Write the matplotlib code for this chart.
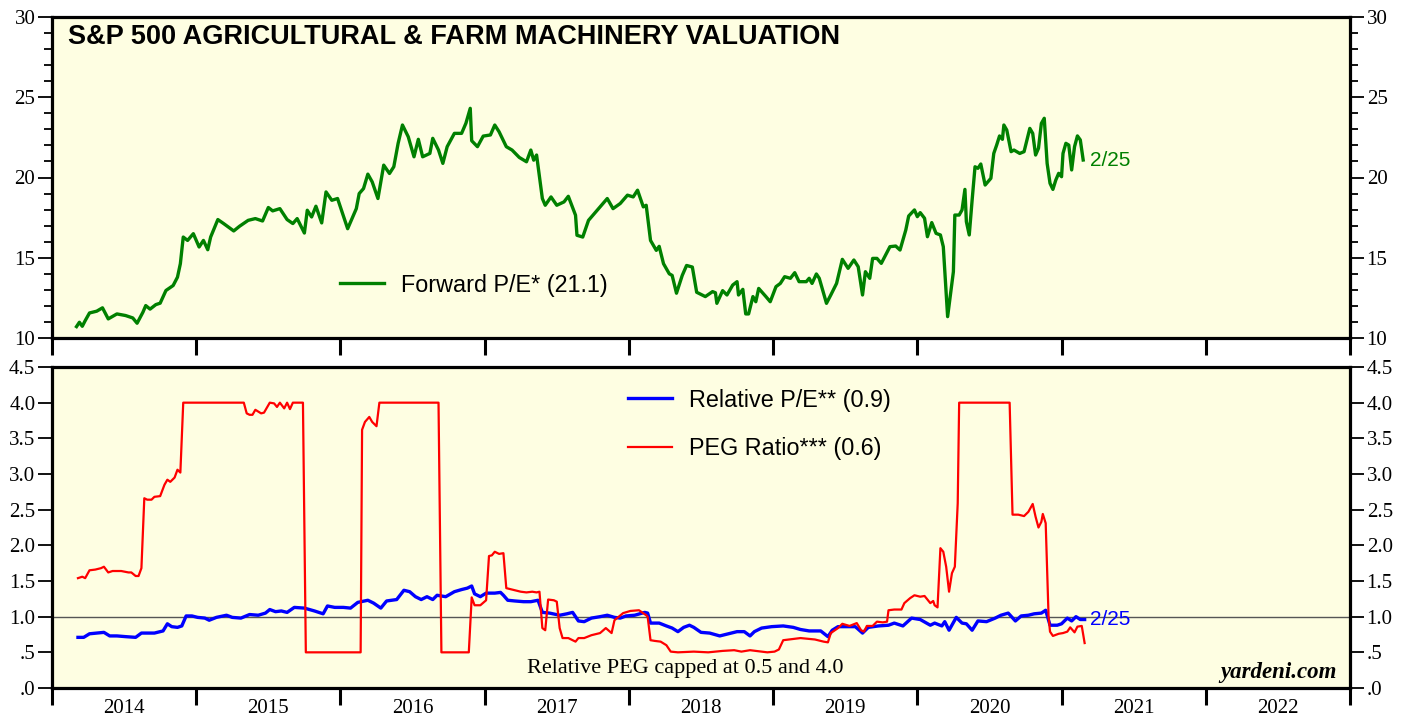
import numpy as np
import matplotlib
matplotlib.use('Agg')
import matplotlib.pyplot as plt
from matplotlib.ticker import FixedLocator, FuncFormatter, NullFormatter

# Forward P/E (decimal years, value)
pe_years = [2014.17, 2014.19, 2014.21, 2014.23, 2014.26, 2014.31, 2014.35, 2014.39, 2014.45, 2014.51,
            2014.56, 2014.59, 2014.63, 2014.65, 2014.68, 2014.72, 2014.75, 2014.79, 2014.84, 2014.87,
            2014.89, 2014.91, 2014.94, 2014.98, 2015.02, 2015.05, 2015.08, 2015.10, 2015.15, 2015.19,
            2015.26, 2015.30, 2015.36, 2015.41, 2015.46, 2015.50, 2015.53, 2015.58, 2015.63, 2015.67,
            2015.70, 2015.75, 2015.77, 2015.80, 2015.83, 2015.87, 2015.90, 2015.94, 2015.98, 2016.05,
            2016.11, 2016.13, 2016.16, 2016.19, 2016.22, 2016.26, 2016.30, 2016.34, 2016.37, 2016.40,
            2016.43, 2016.47, 2016.51, 2016.54, 2016.57, 2016.62, 2016.64, 2016.68, 2016.71, 2016.74,
            2016.79, 2016.84, 2016.87, 2016.90, 2016.91, 2016.95, 2016.99, 2017.04, 2017.07, 2017.10,
            2017.15, 2017.19, 2017.24, 2017.29, 2017.32, 2017.34, 2017.36, 2017.40, 2017.42, 2017.46,
            2017.50, 2017.55, 2017.58, 2017.63, 2017.64, 2017.68, 2017.72, 2017.77, 2017.85, 2017.89,
            2017.94, 2017.99, 2018.03, 2018.06, 2018.10, 2018.12, 2018.15, 2018.19, 2018.21, 2018.24,
            2018.28, 2018.30, 2018.33, 2018.37, 2018.40, 2018.44, 2018.47, 2018.53, 2018.58, 2018.60,
            2018.61, 2018.65, 2018.68, 2018.72, 2018.75, 2018.76, 2018.79, 2018.81, 2018.83, 2018.86,
            2018.88, 2018.90, 2018.95, 2018.98, 2019.02, 2019.05, 2019.08, 2019.12, 2019.15, 2019.18,
            2019.23, 2019.25, 2019.27, 2019.30, 2019.32, 2019.37, 2019.40, 2019.44, 2019.48, 2019.52,
            2019.56, 2019.59, 2019.62, 2019.64, 2019.67, 2019.69, 2019.72, 2019.75, 2019.81, 2019.85,
            2019.88, 2019.92, 2019.94, 2019.98, 2020.00, 2020.02, 2020.05, 2020.07, 2020.10, 2020.13,
            2020.16, 2020.18, 2020.21, 2020.25, 2020.26, 2020.29, 2020.31, 2020.33, 2020.34, 2020.36,
            2020.38, 2020.40, 2020.42, 2020.44, 2020.47, 2020.51, 2020.53, 2020.55, 2020.57, 2020.59,
            2020.60, 2020.62, 2020.65, 2020.67, 2020.71, 2020.74, 2020.76, 2020.78, 2020.80, 2020.82,
            2020.84, 2020.86, 2020.88, 2020.90, 2020.92, 2020.94, 2020.96, 2020.98, 2021.00, 2021.01,
            2021.03, 2021.05, 2021.07, 2021.09, 2021.11, 2021.13, 2021.15]
pe_values = [10.71, 10.98, 10.73, 11.08, 11.56, 11.67, 11.88, 11.19, 11.50, 11.40,
             11.25, 10.92, 11.60, 12.02, 11.80, 12.08, 12.17, 12.96, 13.27, 13.79,
             14.63, 16.29, 16.08, 16.50, 15.67, 16.08, 15.50, 16.29, 17.38, 17.13,
             16.67, 16.96, 17.33, 17.44, 17.29, 18.13, 17.92, 18.06, 17.38, 17.13,
             17.44, 16.54, 17.96, 17.54, 18.21, 17.17, 19.10, 18.58, 18.69, 16.81,
             18.06, 19.00, 19.31, 20.21, 19.73, 18.69, 20.77, 20.25, 20.67, 22.13,
             23.27, 22.54, 21.29, 22.38, 21.29, 21.50, 22.44, 21.71, 20.88, 21.92,
             22.75, 22.75, 23.38, 24.31, 22.29, 21.92, 22.58, 22.65, 23.27, 22.85,
             21.92, 21.71, 21.25, 20.98, 21.71, 21.08, 21.40, 18.69, 18.27, 18.79,
             18.27, 18.48, 18.83, 17.65, 16.40, 16.29, 17.33, 17.85, 18.69, 18.06,
             18.38, 18.90, 18.79, 19.21, 18.17, 18.27, 16.08, 15.46, 15.71, 14.63,
             14.00, 13.90, 12.79, 13.90, 14.52, 14.42, 12.85, 12.58, 12.89, 12.82,
             12.16, 12.95, 12.68, 13.30, 13.51, 12.68, 13.03, 11.50, 11.50, 12.58,
             12.26, 13.09, 12.58, 12.26, 13.20, 13.40, 13.82, 13.72, 14.07, 13.51,
             13.51, 13.72, 13.40, 13.99, 13.72, 12.16, 12.68, 13.40, 14.90, 14.34,
             14.86, 14.44, 12.68, 14.13, 13.72, 14.96, 14.96, 14.65, 15.69, 15.73,
             15.48, 16.73, 17.60, 17.98, 17.56, 17.81, 17.46, 16.31, 17.19, 16.52,
             16.42, 15.69, 11.33, 14.13, 17.66, 17.66, 17.98, 19.26, 17.25, 16.42,
             18.60, 20.67, 20.57, 20.84, 19.53, 19.95, 21.50, 22.02, 22.59, 22.38,
             23.27, 22.96, 21.61, 21.71, 21.50, 21.61, 22.34, 23.06, 22.75, 21.40,
             21.82, 23.37, 23.69, 20.88, 19.64, 19.26, 19.84, 20.26, 20.05, 21.50,
             22.13, 22.02, 20.47, 21.92, 22.59, 22.34, 21.09]

# Relative P/E
rel_years = [2014.18, 2014.22, 2014.26, 2014.36, 2014.40, 2014.45, 2014.51, 2014.58, 2014.62, 2014.66,
             2014.71, 2014.77, 2014.80, 2014.83, 2014.87, 2014.90, 2014.93, 2014.97, 2015.01, 2015.06,
             2015.09, 2015.14, 2015.21, 2015.25, 2015.31, 2015.37, 2015.43, 2015.48, 2015.51, 2015.55,
             2015.59, 2015.63, 2015.68, 2015.75, 2015.82, 2015.88, 2015.91, 2015.96, 2016.02, 2016.07,
             2016.12, 2016.19, 2016.23, 2016.28, 2016.32, 2016.39, 2016.44, 2016.48, 2016.52, 2016.56,
             2016.60, 2016.64, 2016.67, 2016.73, 2016.79, 2016.84, 2016.88, 2016.91, 2016.93, 2016.97,
             2017.01, 2017.07, 2017.11, 2017.13, 2017.16, 2017.21, 2017.27, 2017.32, 2017.37, 2017.40,
             2017.45, 2017.52, 2017.57, 2017.61, 2017.65, 2017.69, 2017.74, 2017.80, 2017.85, 2017.90,
             2017.94, 2017.98, 2018.04, 2018.11, 2018.13, 2018.15, 2018.21, 2018.26, 2018.30, 2018.34,
             2018.38, 2018.42, 2018.45, 2018.50, 2018.56, 2018.63, 2018.69, 2018.75, 2018.80, 2018.84,
             2018.87, 2018.92, 2018.99, 2019.07, 2019.14, 2019.19, 2019.25, 2019.33, 2019.38, 2019.41,
             2019.45, 2019.51, 2019.57, 2019.62, 2019.66, 2019.73, 2019.80, 2019.84, 2019.90, 2019.96,
             2020.02, 2020.09, 2020.12, 2020.17, 2020.19, 2020.22, 2020.27, 2020.31, 2020.34, 2020.38,
             2020.42, 2020.48, 2020.54, 2020.58, 2020.63, 2020.68, 2020.72, 2020.77, 2020.81, 2020.86,
             2020.89, 2020.92, 2020.97, 2021.00, 2021.04, 2021.07, 2021.10, 2021.13, 2021.16]
rel_values = [0.71, 0.71, 0.76, 0.78, 0.73, 0.73, 0.72, 0.71, 0.77, 0.77,
              0.77, 0.80, 0.90, 0.86, 0.85, 0.87, 1.01, 1.01, 0.99, 0.98,
              0.95, 0.99, 1.02, 0.99, 0.98, 1.03, 1.02, 1.05, 1.10, 1.07,
              1.08, 1.06, 1.13, 1.12, 1.08, 1.04, 1.15, 1.13, 1.13, 1.12,
              1.20, 1.23, 1.19, 1.12, 1.22, 1.24, 1.37, 1.35, 1.28, 1.24,
              1.28, 1.24, 1.30, 1.28, 1.35, 1.38, 1.40, 1.43, 1.32, 1.28,
              1.33, 1.33, 1.34, 1.30, 1.23, 1.22, 1.21, 1.21, 1.23, 1.06,
              1.05, 1.02, 1.04, 1.06, 0.94, 0.93, 0.98, 1.00, 1.02, 0.99,
              0.98, 1.01, 1.02, 1.06, 1.05, 0.91, 0.91, 0.87, 0.84, 0.79,
              0.85, 0.88, 0.85, 0.78, 0.77, 0.73, 0.76, 0.79, 0.79, 0.73,
              0.79, 0.84, 0.86, 0.87, 0.85, 0.82, 0.80, 0.80, 0.72, 0.81,
              0.86, 0.86, 0.86, 0.77, 0.85, 0.87, 0.88, 0.91, 0.87, 0.98,
              0.96, 0.88, 0.91, 0.87, 0.93, 0.81, 0.99, 0.91, 0.90, 0.81,
              0.94, 0.93, 0.98, 1.02, 1.05, 0.94, 1.01, 1.02, 1.04, 1.05,
              1.09, 0.88, 0.88, 0.90, 0.98, 0.94, 1.00, 0.96, 0.96]

# PEG ratio (capped at 0.5 and 4.0)
peg_years = [2014.18, 2014.21, 2014.23, 2014.26, 2014.30, 2014.34, 2014.36, 2014.39, 2014.42, 2014.48,
             2014.53, 2014.55, 2014.58, 2014.60, 2014.62, 2014.64, 2014.66, 2014.69, 2014.71, 2014.75,
             2014.78, 2014.80, 2014.82, 2014.85, 2014.87, 2014.89, 2014.91, 2015.33, 2015.35, 2015.37,
             2015.39, 2015.41, 2015.45, 2015.47, 2015.51, 2015.54, 2015.56, 2015.58, 2015.61, 2015.63,
             2015.65, 2015.67, 2015.74, 2015.76, 2016.14, 2016.15, 2016.17, 2016.20, 2016.22, 2016.25,
             2016.27, 2016.68, 2016.70, 2016.89, 2016.91, 2016.93, 2016.97, 2017.01, 2017.03, 2017.05,
             2017.07, 2017.10, 2017.13, 2017.15, 2017.21, 2017.25, 2017.29, 2017.33, 2017.36, 2017.38,
             2017.40, 2017.42, 2017.44, 2017.48, 2017.50, 2017.52, 2017.54, 2017.58, 2017.63, 2017.65,
             2017.69, 2017.74, 2017.80, 2017.84, 2017.88, 2017.90, 2017.96, 2018.01, 2018.07, 2018.12,
             2018.13, 2018.15, 2018.18, 2018.22, 2018.26, 2018.29, 2018.34, 2018.45, 2018.55, 2018.65,
             2018.73, 2018.78, 2018.84, 2018.96, 2019.01, 2019.04, 2019.07, 2019.11, 2019.19, 2019.29,
             2019.35, 2019.38, 2019.40, 2019.45, 2019.48, 2019.53, 2019.58, 2019.61, 2019.63, 2019.65,
             2019.69, 2019.72, 2019.76, 2019.79, 2019.80, 2019.84, 2019.89, 2019.91, 2019.95, 2019.98,
             2020.02, 2020.05, 2020.07, 2020.09, 2020.11, 2020.12, 2020.14, 2020.16, 2020.18, 2020.20,
             2020.22, 2020.24, 2020.26, 2020.28, 2020.29, 2020.64, 2020.66, 2020.70, 2020.74, 2020.77,
             2020.80, 2020.82, 2020.84, 2020.86, 2020.87, 2020.89, 2020.91, 2020.92, 2020.94, 2020.98,
             2021.01, 2021.04, 2021.06, 2021.09, 2021.11, 2021.14, 2021.16]
peg_values = [1.54, 1.56, 1.54, 1.65, 1.66, 1.68, 1.70, 1.62, 1.64, 1.64,
              1.62, 1.62, 1.57, 1.57, 1.68, 2.66, 2.64, 2.64, 2.68, 2.69,
              2.85, 2.92, 2.89, 2.95, 3.06, 3.02, 4.00, 4.00, 3.85, 3.83,
              3.83, 3.90, 3.85, 3.86, 4.00, 3.99, 3.94, 4.00, 3.92, 4.00,
              3.91, 4.00, 4.00, 0.50, 0.50, 3.62, 3.73, 3.80, 3.73, 3.67,
              4.00, 4.00, 0.50, 0.50, 1.27, 1.16, 1.16, 1.23, 1.85, 1.86,
              1.91, 1.88, 1.89, 1.40, 1.37, 1.35, 1.34, 1.35, 1.34, 1.35,
              0.84, 0.81, 1.24, 1.23, 1.21, 0.84, 0.70, 0.70, 0.65, 0.70,
              0.70, 0.74, 0.77, 0.84, 0.77, 0.95, 1.05, 1.08, 1.09, 1.02,
              1.00, 0.67, 0.66, 0.65, 0.60, 0.51, 0.50, 0.51, 0.50, 0.52,
              0.53, 0.51, 0.53, 0.50, 0.51, 0.54, 0.67, 0.68, 0.70, 0.68,
              0.65, 0.64, 0.77, 0.84, 0.90, 0.87, 0.91, 0.81, 0.79, 0.87,
              0.87, 0.93, 0.92, 0.93, 1.09, 1.10, 1.10, 1.19, 1.26, 1.30,
              1.28, 1.29, 1.24, 1.19, 1.22, 1.16, 1.13, 1.96, 1.91, 1.70,
              1.35, 1.61, 1.70, 2.59, 4.00, 4.00, 2.43, 2.43, 2.41, 2.47,
              2.58, 2.40, 2.25, 2.33, 2.44, 2.31, 1.00, 0.79, 0.73, 0.76,
              0.77, 0.79, 0.85, 0.78, 0.86, 0.87, 0.63]

SANS = 'Liberation Sans'
SERIF = 'Liberation Serif'
BG = '#FEFEE2'
GREEN = '#008000'
BLUE = '#0000FF'
RED = '#FF0000'

W, H = 1408, 717
fig = plt.figure(figsize=(W / 100, H / 100), dpi=100)
ax1 = fig.add_axes([52 / W, 1 - 338 / H, 1298 / W, 321 / H])
ax2 = fig.add_axes([52 / W, 1 - 688 / H, 1298 / W, 321 / H])


def style_axes(ax):
    ax.set_facecolor(BG)
    for s in ax.spines.values():
        s.set_linewidth(2.3)
    ax.set_xlim(2014, 2023)
    ax.xaxis.set_major_locator(FixedLocator(np.arange(2014, 2024)))
    ax.xaxis.set_minor_locator(FixedLocator(np.arange(2014, 2023) + 0.5))
    ax.xaxis.set_major_formatter(NullFormatter())
    ax.tick_params(axis='x', which='major', direction='out', length=12, width=2.2)
    ax.tick_params(axis='x', which='minor', length=0)
    ax.tick_params(axis='y', which='both', direction='out', left=True, right=True,
                   labelleft=True, labelright=True, labelsize=15, pad=2)
    ax.tick_params(axis='y', which='major', length=10, width=1.3)
    ax.tick_params(axis='y', which='minor', length=6, width=1.3)
    for lab in ax.get_yticklabels() + ax.get_xticklabels(minor=True):
        lab.set_family(SERIF)


# top panel
ax1.plot(pe_years, pe_values, color=GREEN, lw=2.4, label='Forward P/E* (21.1)')
ax1.set_ylim(10, 30)
ax1.yaxis.set_major_locator(FixedLocator([10, 15, 20, 25, 30]))
ax1.yaxis.set_minor_locator(FixedLocator(np.arange(10, 31)))
ax1.xaxis.set_minor_formatter(NullFormatter())
style_axes(ax1)
ax1.text(0.0123, 0.938, 'S&P 500 AGRICULTURAL & FARM MACHINERY VALUATION',
         transform=ax1.transAxes, family=SANS, fontsize=19.5, fontweight='bold', va='center')
ax1.legend(loc='center left', bbox_to_anchor=(0.2219, 0.165), frameon=False,
           prop={'family': SANS, 'size': 16.8}, handlelength=1.9, handletextpad=0.7,
           borderpad=0, borderaxespad=0)
ax1.annotate('2/25', xy=(pe_years[-1], pe_values[-1]), xytext=(5, 0), textcoords='offset points',
             color=GREEN, family=SANS, fontsize=15, va='center', ha='left')

# bottom panel
ax2.axhline(1.0, color='#555555', lw=1)
ax2.plot(rel_years, rel_values, color=BLUE, lw=2.4, label='Relative P/E** (0.9)')
ax2.plot(peg_years, peg_values, color=RED, lw=1.6, label='PEG Ratio*** (0.6)')
ax2.set_ylim(0, 4.5)
ax2.yaxis.set_major_locator(FixedLocator(np.arange(0, 4.51, 0.5)))
ax2.yaxis.set_major_formatter(FuncFormatter(lambda v, p: ('%.1f' % v).lstrip('0')))
ax2.xaxis.set_minor_formatter(FuncFormatter(lambda v, p: str(int(v))))
style_axes(ax2)
ax2.tick_params(axis='x', which='minor', labelsize=15, pad=8)
for lab in ax2.get_xticklabels(minor=True):
    lab.set_family(SERIF)
ax2.legend(loc='center left', bbox_to_anchor=(0.4438, 0.821), frameon=False,
           prop={'family': SANS, 'size': 16.8}, handlelength=1.9, handletextpad=0.7,
           labelspacing=1.1, borderpad=0, borderaxespad=0)
ax2.annotate('2/25', xy=(rel_years[-1], rel_values[-1]), xytext=(4, 0), textcoords='offset points',
             color=BLUE, family=SANS, fontsize=15, va='center', ha='left')
ax2.text(0.488, 0.062, 'Relative PEG capped at 0.5 and 4.0', transform=ax2.transAxes,
         family=SERIF, fontsize=16, ha='center', va='center')
ax2.text(0.99, 0.047, 'yardeni.com', transform=ax2.transAxes, family=SERIF, fontsize=16.5,
         fontweight='bold', fontstyle='italic', ha='right', va='center')

fig.savefig('out.png', dpi=100, facecolor='white')
